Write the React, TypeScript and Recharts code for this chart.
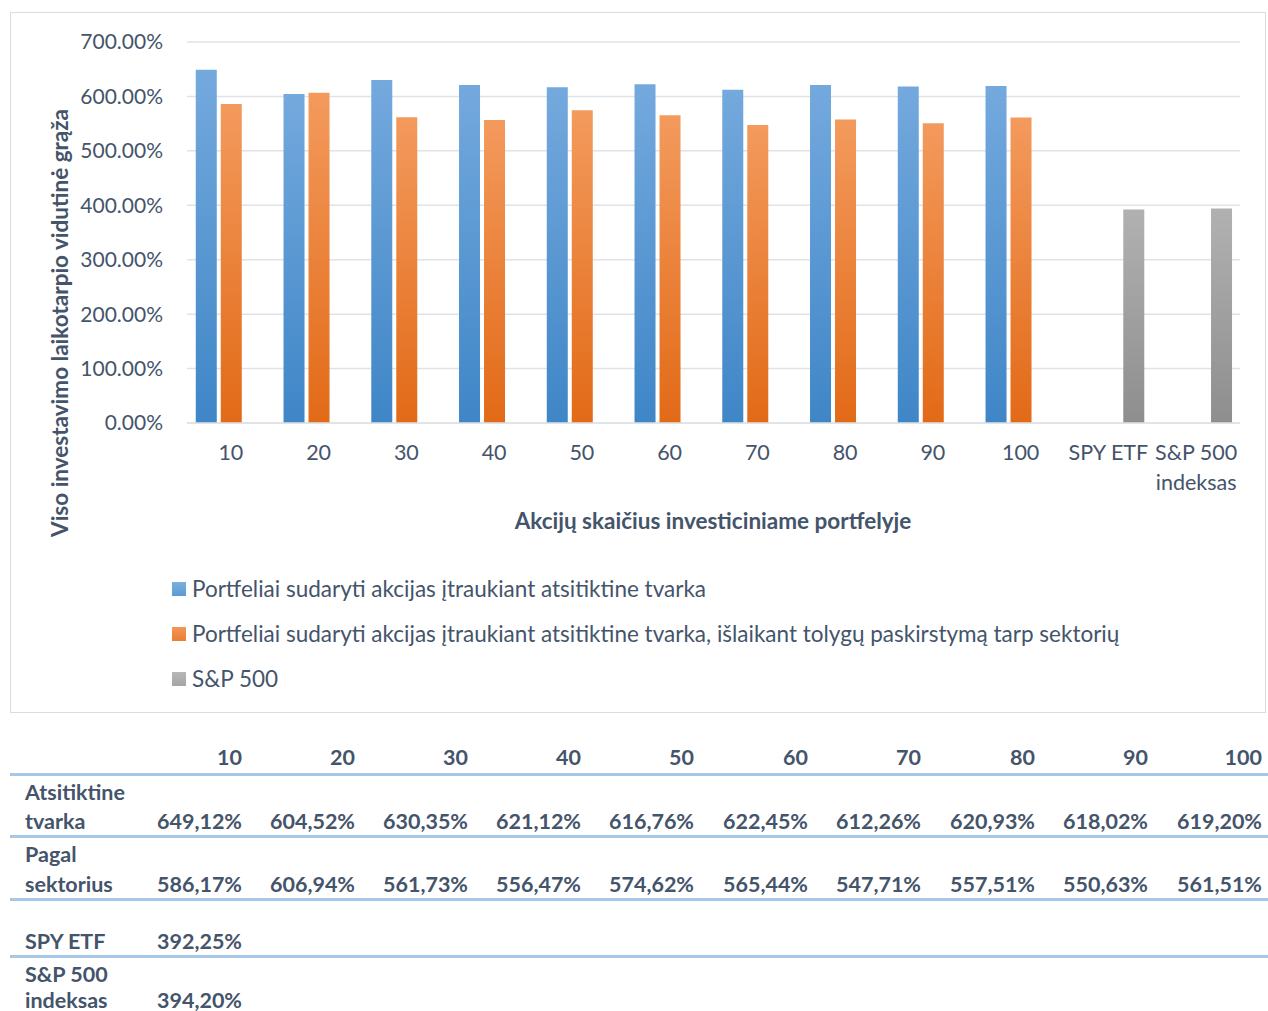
import React from "react";
import { BarChart, Bar, XAxis, YAxis, CartesianGrid, Legend } from "recharts";

const categories = ["10", "20", "30", "40", "50", "60", "70", "80", "90", "100", "SPY ETF", "S&P 500 indeksas"];
const randomOrder = [649.12, 604.52, 630.35, 621.12, 616.76, 622.45, 612.26, 620.93, 618.02, 619.2];
const bySector = [586.17, 606.94, 561.73, 556.47, 574.62, 565.44, 547.71, 557.51, 550.63, 561.51];
const benchmarkNames = ["SPY ETF", "S&P 500 indeksas"];
const benchmark = [392.25, 394.2];
const yTicks = [0, 100, 200, 300, 400, 500, 600, 700];

const seriesNames = {
  random: "Portfeliai sudaryti akcijas įtraukiant atsitiktine tvarka",
  sector: "Portfeliai sudaryti akcijas įtraukiant atsitiktine tvarka, išlaikant tolygų paskirstymą tarp sektorių",
  sp500: "S&P 500",
};

const data = categories.map((name, i) => ({
  name,
  random: i < randomOrder.length ? randomOrder[i] : null,
  sector: i < bySector.length ? bySector[i] : null,
  sp500: i >= randomOrder.length ? benchmark[i - randomOrder.length] : null,
}));

const FONT = "Lato, 'Open Sans', sans-serif";
const TEXT = "#44546a";
const GRID = "#dfe2e6";
const RULE = "#a7c7e6";

const fmtPct = (v: number) => v.toFixed(2).replace(".", ",") + "%";

const XTick = (props: any) => {
  const { x, y, payload } = props;
  const words = payload.value === "S&P 500 indeksas" ? ["S&P 500", "indeksas"] : [payload.value];
  return (
    <text x={x} y={y + 35} textAnchor="middle" fill={TEXT} fontSize={21.5} fontFamily={FONT}>
      {words.map((w: string, i: number) => (
        <tspan key={w} x={x} dy={i === 0 ? 0 : 30}>
          {w}
        </tspan>
      ))}
    </text>
  );
};

const legendItems = [
  { key: "random", color: "#5b9bd5" },
  { key: "sector", color: "#ed7d31" },
  { key: "sp500", color: "#a5a5a5" },
];

const LegendBox = () => (
  <div style={{ fontFamily: FONT, fontSize: 22.5, color: TEXT }}>
    {legendItems.map((it) => (
      <div key={it.key} style={{ display: "flex", alignItems: "center", height: 45 }}>
        <span
          style={{
            width: 14,
            height: 14,
            marginRight: 6,
            background: `linear-gradient(${it.color}cc, ${it.color})`,
          }}
        />
        <span style={{ whiteSpace: "nowrap" }}>{seriesNames[it.key as keyof typeof seriesNames]}</span>
      </div>
    ))}
  </div>
);

// table geometry: columns right-aligned on these edges
const colRight = [242, 355, 468, 581, 694, 808, 921, 1035, 1148, 1262];
const tableRows = [
  { label: ["Atsitiktine", "tvarka"], values: randomOrder, lines: [792, 821], ruleAfter: 836 },
  { label: ["Pagal", "sektorius"], values: bySector, lines: [854, 884], ruleAfter: 899 },
  { label: [benchmarkNames[0]], values: [benchmark[0]], lines: [941], ruleAfter: 956 },
  { label: ["S&P 500", "indeksas"], values: [benchmark[1]], lines: [974, 1000], ruleAfter: null },
];

const Cell = ({ top, left, right, children }: any) => (
  <div
    style={{
      position: "absolute",
      top: top - 10,
      left,
      right: right !== undefined ? 1268 - right : undefined,
      lineHeight: "20px",
      fontFamily: FONT,
      fontWeight: 700,
      fontSize: 21.5,
      color: TEXT,
      whiteSpace: "nowrap",
    }}
  >
    {children}
  </div>
);

const Rule = ({ y }: { y: number }) => (
  <div style={{ position: "absolute", left: 10, width: 1258, top: y - 1.5, height: 3, background: RULE }} />
);

const StatsTable = () => (
  <>
    {categories.slice(0, 10).map((c, i) => (
      <Cell key={c} top={757} right={colRight[i]}>
        {c}
      </Cell>
    ))}
    <Rule y={774} />
    {tableRows.map((row) => (
      <React.Fragment key={row.label.join(" ")}>
        {row.label.map((l, j) => (
          <Cell key={l} top={row.lines[j]} left={25}>
            {l}
          </Cell>
        ))}
        {row.values.map((v, i) => (
          <Cell key={i} top={row.lines[row.lines.length - 1]} right={colRight[i]}>
            {fmtPct(v)}
          </Cell>
        ))}
        {row.ruleAfter !== null && <Rule y={row.ruleAfter} />}
      </React.Fragment>
    ))}
  </>
);

export default function App() {
  return (
    <div style={{ position: "absolute", left: 0, top: 0, width: 1268, height: 1011, background: "#fff", overflow: "hidden" }}>
      <div
        style={{
          position: "absolute",
          left: 10,
          top: 12,
          width: 1254,
          height: 699,
          border: "1px solid #d9dde2",
        }}
      >
        <BarChart
          width={1254}
          height={699}
          data={data}
          margin={{ top: 29, right: 25, bottom: 229, left: 0 }}
          barGap={4}
          barCategoryGap="10%"
        >
          <defs>
            <linearGradient id="gBlue" x1="0" y1="0" x2="0" y2="1">
              <stop offset="0%" stopColor="#74a9dd" />
              <stop offset="100%" stopColor="#3f86c7" />
            </linearGradient>
            <linearGradient id="gOrange" x1="0" y1="0" x2="0" y2="1">
              <stop offset="0%" stopColor="#f39a5d" />
              <stop offset="100%" stopColor="#e26a17" />
            </linearGradient>
            <linearGradient id="gGray" x1="0" y1="0" x2="0" y2="1">
              <stop offset="0%" stopColor="#b1b1b1" />
              <stop offset="100%" stopColor="#8e8e8e" />
            </linearGradient>
          </defs>
          <CartesianGrid vertical={false} stroke={GRID} strokeWidth={1.5} />
          <XAxis
            dataKey="name"
            interval={0}
            height={60}
            tickLine={false}
            tickSize={0}
            axisLine={{ stroke: GRID, strokeWidth: 1.5 }}
            tick={<XTick />}
            label={{
              content: () => (
                <text x={702} y={516} textAnchor="middle" fill={TEXT} fontSize={22.5} fontWeight={700} fontFamily={FONT}>
                  Akcijų skaičius investiciniame portfelyje
                </text>
              ),
            }}
          />
          <YAxis
            width={176}
            domain={[0, 700]}
            ticks={yTicks}
            axisLine={false}
            tickLine={false}
            tickMargin={18}
            tickFormatter={(v: number) => v.toFixed(2) + "%"}
            tick={{ fill: TEXT, fontSize: 21, fontFamily: FONT }}
            label={{
              content: () => (
                <text
                  x={0}
                  y={0}
                  transform="translate(57,310) rotate(-90)"
                  textAnchor="middle"
                  fill={TEXT}
                  fontSize={22.5}
                  fontWeight={700}
                  fontFamily={FONT}
                >
                  Viso investavimo laikotarpio vidutinė grąža
                </text>
              ),
            }}
          />
          <Legend
            layout="horizontal"
            verticalAlign="middle"
            align="center"
            wrapperStyle={{ top: 553, left: 161, width: 1050 }}
            content={<LegendBox />}
          />
          <Bar dataKey="random" name={seriesNames.random} fill="url(#gBlue)" isAnimationActive={false} />
          <Bar dataKey="sector" name={seriesNames.sector} fill="url(#gOrange)" isAnimationActive={false} />
          <Bar dataKey="sp500" name={seriesNames.sp500} fill="url(#gGray)" isAnimationActive={false} />
        </BarChart>
      </div>
      <StatsTable />
    </div>
  );
}
